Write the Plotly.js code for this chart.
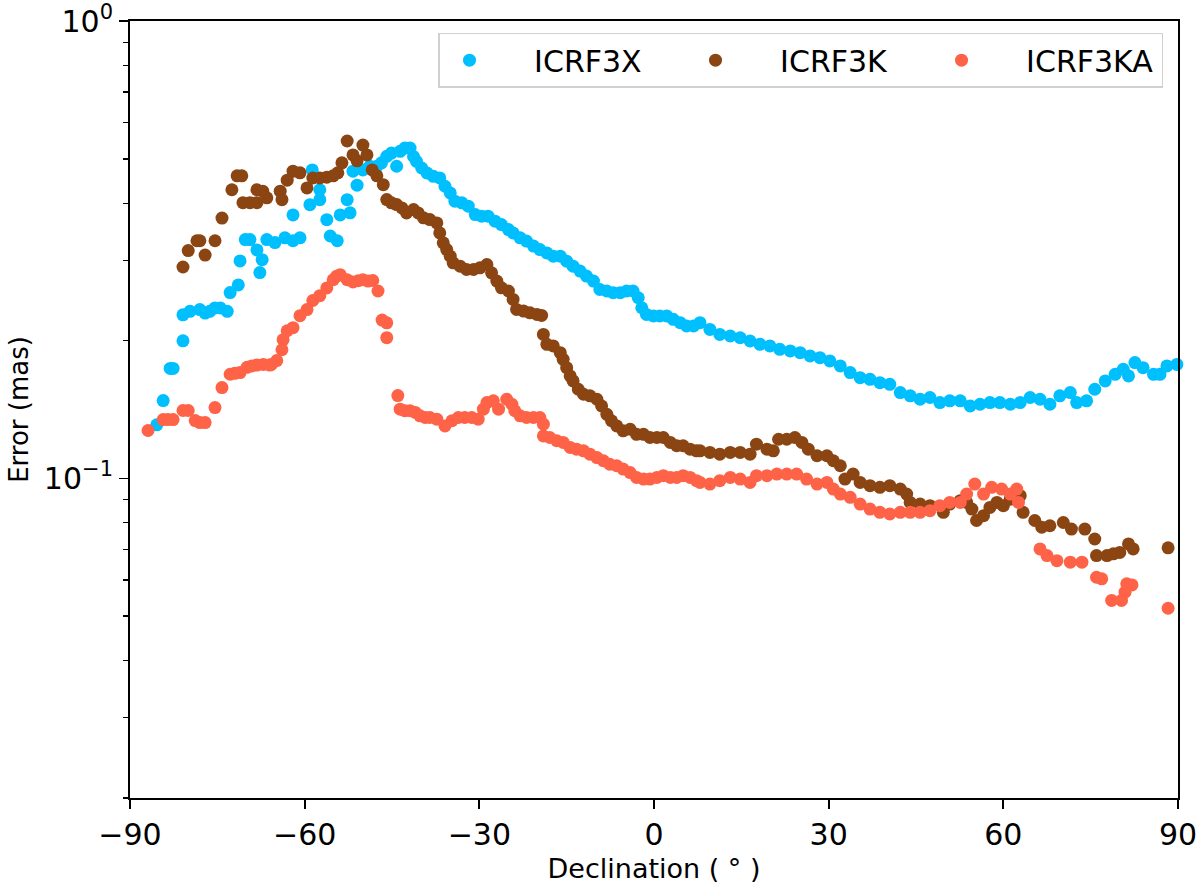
<!DOCTYPE html>
<html>
<head>
<meta charset="utf-8">
<script src="https://cdn.plot.ly/plotly-3.0.1.min.js"></script>
<style>html,body{margin:0;padding:0;background:#fff;}#chart{width:1200px;height:893px;}</style>
</head>
<body>
<div id="chart"></div>
<script>
const seriesNames = ['ICRF3X', 'ICRF3K', 'ICRF3KA'];

const decX = [-85.4, -84.3, -83.1, -82.6, -80.9, -80.9, -79.7, -78.0, -77.1, -76.3, -75.4, -74.5, -73.3, -72.8, -71.4, -71.1, -70.2, -69.4, -68.2, -67.7, -67.3, -66.5, -65.1, -63.4, -62.0, -62.0, -60.8, -59.1, -58.7, -57.4, -57.4, -56.2, -55.6, -54.4, -53.9, -52.7, -52.2, -51.7, -51.0, -50.0, -48.8, -47.6, -46.8,
  -45.9, -45.1, -44.2, -43.6, -42.8, -41.9, -41.3, -40.8, -39.9, -39.0, -37.9, -36.8, -35.9, -35.0, -34.2, -33.0, -31.9, -30.7, -29.6, -28.5, -27.3, -26.2, -25.0, -24.2, -23.0, -21.9, -20.7, -19.6, -18.4, -17.3, -16.1, -15.0, -13.9, -12.7, -11.6, -10.4, -9.3, -8.1, -7.0, -5.8, -4.7, -3.6, -2.7, -2.1, -1.3, -0.1, 1.0, 2.2, 3.3, 4.5, 5.6, 6.8,
  7.9, 9.6, 11.3, 13.1, 14.8, 16.5, 18.2, 19.9, 21.6, 23.4, 25.1, 26.8, 28.5, 30.2, 32.0, 33.7, 35.4, 37.1, 38.8, 40.5, 42.3, 44.0, 45.7, 47.4, 49.1, 50.8, 52.6, 54.3, 56.0, 57.7, 59.4, 61.2, 62.9, 64.6, 66.3, 68.0, 69.7, 71.5, 72.6, 74.3, 75.7, 77.5, 79.2, 80.6, 81.5, 82.6, 84.0, 85.8, 86.9, 88.1, 89.8];
const errX = [0.131, 0.148, 0.174, 0.174, 0.200, 0.228, 0.232, 0.234, 0.230, 0.232, 0.236, 0.236, 0.232, 0.255, 0.265, 0.299, 0.333, 0.333, 0.316, 0.282, 0.301, 0.333, 0.328, 0.336, 0.331, 0.377, 0.336, 0.397, 0.473, 0.428, 0.407, 0.368, 0.339, 0.331, 0.377, 0.407, 0.381, 0.470, 0.438, 0.473, 0.482, 0.482, 0.490,
  0.5064, 0.5149, 0.4817, 0.5193, 0.528, 0.528, 0.506, 0.4939, 0.4775, 0.4657, 0.458, 0.4542, 0.4356, 0.4212, 0.404, 0.4006, 0.394, 0.3777, 0.3747, 0.3747, 0.3654, 0.3591, 0.3502, 0.3444, 0.3359, 0.3304, 0.3222, 0.3167, 0.3114, 0.3063, 0.3063, 0.2987, 0.2913, 0.2841, 0.2771, 0.2702, 0.2591, 0.257, 0.2548, 0.2548, 0.257, 0.257, 0.2484, 0.2362, 0.2284, 0.2266, 0.2266, 0.2266, 0.2228, 0.2191, 0.2155, 0.2155,
  0.2191, 0.2118, 0.2065, 0.2049, 0.2031, 0.1998, 0.1965, 0.1949, 0.1916, 0.1901, 0.1884, 0.1853, 0.1837, 0.1807, 0.1762, 0.1704, 0.1661, 0.1647, 0.1620, 0.1606, 0.1541, 0.1516, 0.1490, 0.1503, 0.1465, 0.1478, 0.1478, 0.1441, 0.1453, 0.1465, 0.1465, 0.1453, 0.1465, 0.1503, 0.1490, 0.1453, 0.1516, 0.1541, 0.1465, 0.1478, 0.1567, 0.1634, 0.1689, 0.1733, 0.1676, 0.1792, 0.1747, 0.1689, 0.1689, 0.1762, 0.1776];

const decK = [-80.9, -80.0, -78.5, -78.0, -77.1, -75.4, -74.2, -72.5, -71.6, -70.8, -70.6, -69.4, -68.2, -68.2, -67.2, -66.5, -64.2, -63.9, -63.0, -62.0, -60.8, -59.6, -58.6, -57.4, -56.2, -55.1, -54.3, -53.6, -52.7, -51.7, -51.0, -50.0, -49.3, -48.4, -47.6,
  -46.5, -45.9, -45.1, -44.2, -43.3, -42.5, -41.3, -40.5, -39.6, -38.5, -37.3, -36.8, -36.2, -35.6, -35.0, -34.5, -33.3, -32.2, -31.0, -29.9, -28.7, -27.9, -27.0, -26.2, -25.0, -24.2, -23.6, -22.4, -21.3, -20.1, -19.3, -19.0, -18.4, -17.3, -16.1, -15.6, -15.0, -14.4, -13.9, -13.0, -12.1, -11.0, -9.8, -9.0, -8.1, -7.3, -6.4, -5.3, -4.1, -3.0, -1.8, -0.7, 0.5, 1.6, 2.8, 3.9, 5.0, 6.2, 7.3,
  7.9, 9.6, 11.3, 13.1, 14.8, 16.5, 17.6, 19.4, 20.5, 21.4, 22.8, 24.2, 25.4, 26.5, 28.0, 29.7, 30.8, 32.0, 32.8, 34.2, 35.4, 37.1, 38.8, 40.5, 42.3, 43.4, 44.0, 45.7, 47.4, 49.7, 50.8, 52.6, 53.7, 54.6, 55.4, 56.6, 57.7, 58.9, 60.0, 61.2, 62.3, 62.9, 63.4, 65.4, 66.6, 68.0, 70.3, 71.7, 74.0, 75.7, 76.0, 77.8, 78.9, 80.0, 81.5, 82.3, 88.3];
const errK = [0.290, 0.315, 0.331, 0.331, 0.308, 0.331, 0.371, 0.428, 0.459, 0.459, 0.401, 0.401, 0.401, 0.428, 0.425, 0.411, 0.425, 0.407, 0.449, 0.470, 0.466, 0.432, 0.454, 0.454, 0.456, 0.459, 0.466, 0.490, 0.547, 0.510, 0.495, 0.536, 0.510, 0.473, 0.459,
  0.4391, 0.4073, 0.4006, 0.3972, 0.3906, 0.3809, 0.3873, 0.3809, 0.3715, 0.3683, 0.3622, 0.3444, 0.3275, 0.3167, 0.3063, 0.2962, 0.2913, 0.2864, 0.2864, 0.2889, 0.2937, 0.2817, 0.2702, 0.2612, 0.2570, 0.2463, 0.2342, 0.2323, 0.2303, 0.2284, 0.2273, 0.2065, 0.1965, 0.1949, 0.1884, 0.1822, 0.1747, 0.1676, 0.1634, 0.1567, 0.1528, 0.1516, 0.1490, 0.1441, 0.1381, 0.1337, 0.1303, 0.1271, 0.1281, 0.1249, 0.1249, 0.1229, 0.1229, 0.1229, 0.1199, 0.1179, 0.1179, 0.1159, 0.1149,
  0.1149, 0.1140, 0.1130, 0.1140, 0.1140, 0.1130, 0.1188, 0.1159, 0.1149, 0.1218, 0.1218, 0.1229, 0.1199, 0.1159, 0.1121, 0.1121, 0.1093, 0.1066, 0.0997, 0.1022, 0.0980, 0.0964, 0.0956, 0.0964, 0.0948, 0.0924, 0.0886, 0.0879, 0.0872, 0.0843, 0.0879, 0.0894, 0.0886, 0.0857, 0.0809, 0.0829, 0.0864, 0.0886, 0.0872, 0.0901, 0.0909, 0.0917, 0.0843, 0.0809, 0.0782, 0.0788, 0.0801, 0.0775, 0.0775, 0.0737, 0.0678, 0.0678, 0.0684, 0.0689, 0.0719, 0.0701, 0.0705];

const decKA = [-86.9, -84.3, -83.5, -82.6, -80.9, -80.0, -78.8, -78.0, -77.1, -75.4, -74.2, -72.8, -72.0, -71.1, -69.9, -69.1, -68.2, -67.1, -66.0, -65.7, -64.8, -63.9, -63.7, -63.0, -62.0, -60.8, -59.6, -58.6, -57.4, -56.2, -55.1, -54.5, -53.9, -52.7, -51.7, -50.8, -50.0, -49.1, -48.3, -47.4, -46.7, -45.9, -45.9, -44.0,
  -43.6, -42.8, -41.9, -41.0, -40.2, -39.3, -38.5, -37.3, -35.9, -34.7, -33.6, -32.5, -31.3, -30.2, -29.3, -28.7, -27.6, -26.7, -25.3, -24.4, -23.9, -23.0, -21.9, -20.7, -19.6, -19.0, -19.0, -17.9, -16.7, -15.6, -14.4, -13.3, -12.1, -11.0, -9.8, -8.7, -7.6, -6.4, -5.3, -4.1, -3.0, -1.8, -0.7, 0.5, 1.6, 2.8, 3.9, 5.0, 6.2, 7.3,
  7.9, 9.6, 11.3, 13.1, 14.8, 16.5, 17.6, 19.4, 21.1, 22.8, 24.5, 26.2, 28.0, 29.7, 30.8, 32.0, 33.7, 35.4, 37.1, 38.8, 40.5, 42.3, 44.0, 45.7, 47.4, 49.1, 50.8, 52.6, 53.7, 55.1, 56.6, 58.0, 59.7, 61.2, 62.3, 62.6, 66.3, 67.5, 69.2, 71.5, 73.5, 76.0, 76.9, 78.6, 80.3, 80.9, 81.2, 82.1, 88.3];
const errKA = [0.1273, 0.1345, 0.1345, 0.1345, 0.1408, 0.1408, 0.1338, 0.1325, 0.1325, 0.1429, 0.158, 0.169, 0.1698, 0.1704, 0.175, 0.1762, 0.177, 0.1776, 0.177, 0.1776, 0.181, 0.1912, 0.2011, 0.2104, 0.2137, 0.227, 0.234, 0.245, 0.251, 0.261, 0.272, 0.277, 0.279, 0.272, 0.269, 0.2706, 0.272, 0.2702, 0.271, 0.257, 0.222, 0.219, 0.2032, 0.1518,
  0.1417, 0.1406, 0.1406, 0.1394, 0.1371, 0.1359, 0.1359, 0.1348, 0.1303, 0.1337, 0.1359, 0.1359, 0.1359, 0.1348, 0.1417, 0.1465, 0.1478, 0.1417, 0.1490, 0.1453, 0.1406, 0.1371, 0.1359, 0.1359, 0.1359, 0.1314, 0.1239, 0.1229, 0.1209, 0.1199, 0.1169, 0.1159, 0.1149, 0.1130, 0.1111, 0.1093, 0.1074, 0.1066, 0.1048, 0.1030, 0.1005, 0.0997, 0.0997, 0.1005, 0.1014, 0.1005, 0.1005, 0.1014, 0.1005, 0.0989,
  0.0980, 0.0972, 0.0989, 0.1005, 0.0997, 0.0980, 0.1014, 0.1014, 0.1022, 0.1022, 0.1022, 0.0997, 0.0972, 0.0980, 0.0948, 0.0924, 0.0909, 0.0879, 0.0857, 0.0843, 0.0836, 0.0843, 0.0843, 0.0843, 0.0850, 0.0872, 0.0886, 0.0886, 0.0924, 0.0972, 0.0924, 0.0956, 0.0948, 0.0924, 0.0948, 0.0886, 0.0701, 0.0678, 0.0661, 0.0656, 0.0656, 0.0608, 0.0603, 0.0541, 0.0541, 0.0564, 0.0588, 0.0585, 0.0520];

const xTickVals = [-90, -60, -30, 0, 30, 60, 90];
const xTickText = ['\u221290', '\u221260', '\u221230', '0', '30', '60', '90'];
const yTickVals = [0.1, 1];
const yTickText = ['10<sup>\u22121</sup>', '10<sup>0</sup>'];
const yMinorVals = [0.02, 0.03, 0.04, 0.05, 0.06, 0.07, 0.08, 0.09, 0.2, 0.3, 0.4, 0.5, 0.6, 0.7, 0.8, 0.9];

const colors = ['#00BFFF', '#8B4513', '#FF6347'];
const xs = [decX, decK, decKA];
const ys = [errX, errK, errKA];
const legendWidths = [181, 181, 165];
const PAD = '\u00a0\u00a0\u00a0\u2009';

const traces = seriesNames.map((n, i) => ({
  type: 'scatter', mode: 'markers', name: PAD + n,
  x: xs[i], y: ys[i],
  marker: {color: colors[i], size: 13, line: {width: 0}},
  legendwidth: legendWidths[i],
  cliponaxis: false
}));

const FAM = 'DejaVu Sans, sans-serif';
const tickFont = {family: FAM, size: 30, color: '#000'};

const layout = {
  width: 1200, height: 893,
  margin: {l: 130, r: 22, t: 21, b: 95, pad: 0},
  paper_bgcolor: '#fff', plot_bgcolor: '#fff',
  font: {family: FAM, size: 27, color: '#000'},
  showlegend: true,
  legend: {
    orientation: 'h', x: 0.9857, xanchor: 'right', y: 0.985, yanchor: 'top',
    bordercolor: '#d0d0d0', borderwidth: 1.5, bgcolor: 'rgba(255,255,255,0.8)',
    font: {family: FAM, size: 30, color: '#000'},
    itemwidth: 50, traceorder: 'normal'
  },
  xaxis: {
    range: [-90, 90], tickmode: 'array', tickvals: xTickVals, ticktext: xTickText,
    ticks: 'outside', ticklen: 9, tickwidth: 1.8, tickcolor: '#000',
    showline: true, linecolor: '#000', linewidth: 2, mirror: true,
    showgrid: false, zeroline: false,
    title: {text: 'Declination ( \u00b0 )', font: {family: FAM, size: 27, color: '#000'}, standoff: 8},
    tickfont: tickFont
  },
  yaxis: {
    type: 'log', range: [Math.log10(0.02), 0.0005],
    tickmode: 'array', tickvals: yTickVals, ticktext: yTickText,
    ticks: 'outside', ticklen: 9, tickwidth: 1.8, tickcolor: '#000',
    ticklabeloverflow: 'allow',
    minor: {tickmode: 'array', tickvals: yMinorVals, ticks: 'outside', ticklen: 5, tickwidth: 1.3, tickcolor: '#000', showgrid: false},
    showline: true, linecolor: '#000', linewidth: 2, mirror: true,
    showgrid: false, zeroline: false,
    title: {text: 'Error (mas)', font: {family: FAM, size: 26, color: '#000'}, standoff: 8},
    tickfont: tickFont
  }
};

Plotly.newPlot('chart', traces, layout, {staticPlot: true});
</script>
</body>
</html>
